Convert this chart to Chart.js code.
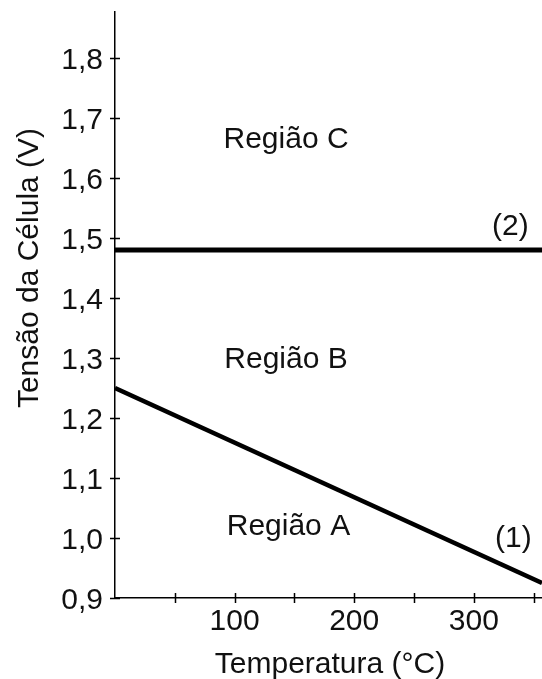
<!DOCTYPE html>
<html>
<head>
<meta charset="utf-8">
<script src="https://cdn.jsdelivr.net/npm/chart.js@4/dist/chart.umd.min.js"></script>
<style>
  html, body { margin: 0; padding: 0; background: #fff; }
  #grafico { display: block; }
</style>
</head>
<body>
<canvas id="grafico" width="542" height="679"></canvas>
<script>
// dados das duas retas
const temperaturas = [0, 357];
const tensaoReta1 = [1.25, 0.925];   // (1) limite entre as regiões A e B
const tensaoReta2 = [1.48, 1.48];    // (2) limite entre as regiões B e C

const limitesX = [0, 357];
const limitesY = [0.9, 1.877];
const passoX = 50;
const passoY = 0.1;

// textos colocados em coordenadas do gráfico
const textos = ['Região C', 'Região B', 'Região A', '(2)', '(1)'];
const textosX = [143, 143, 145, 330.5, 333];
const textosY = [1.65, 1.283, 1.005, 1.505, 0.985];

const fonte = '"Liberation Sans", Arial, sans-serif';
const corTexto = '#111';

const pontos = (xs, ys) => xs.map((x, i) => ({ x: x, y: ys[i] }))

// marcas de escala cruzando os eixos e textos soltos
const extras = {
    id: 'extras',
    afterDatasetsDraw(chart) {
        const ctx = chart.ctx
        const sx = chart.scales.x
        const sy = chart.scales.y
        const area = chart.chartArea

        ctx.save()
        ctx.strokeStyle = '#000'
        ctx.lineWidth = 1.5
        ctx.beginPath()
        sy.ticks.forEach(t => {
            const py = Math.round(sy.getPixelForValue(t.value)) + 0.5
            ctx.moveTo(area.left - 5, py)
            ctx.lineTo(area.left + 5, py)
        })
        sx.ticks.forEach(t => {
            if (t.value === 0) return
            const px = Math.round(sx.getPixelForValue(t.value)) + 0.5
            ctx.moveTo(px, area.bottom - 5)
            ctx.lineTo(px, area.bottom + 5)
        })
        ctx.stroke()

        ctx.fillStyle = corTexto
        ctx.font = '30px ' + fonte
        ctx.textAlign = 'center'
        ctx.textBaseline = 'alphabetic'
        textos.forEach((t, i) => {
            ctx.fillText(t, sx.getPixelForValue(textosX[i]), sy.getPixelForValue(textosY[i]))
        })

        // títulos dos eixos
        ctx.fillText('Temperatura (°C)', 330, 673)
        ctx.translate(38, 268)
        ctx.rotate(-Math.PI / 2)
        ctx.fillText('Tensão da Célula (V)', 0, 0)
        ctx.restore()
    }
}

new Chart(document.getElementById('grafico'), {
    type: 'scatter',
    data: {
        datasets: [
            {
                label: '(1)',
                data: pontos(temperaturas, tensaoReta1),
                showLine: true,
                borderColor: '#000',
                borderWidth: 4.5,
                pointRadius: 0
            }, {
                label: '(2)',
                data: pontos(temperaturas, tensaoReta2),
                showLine: true,
                borderColor: '#000',
                borderWidth: 5,
                pointRadius: 0
            }
        ]
    },
    options: {
        responsive: false,
        animation: false,
        layout: { padding: { top: 12, right: 0, left: 0, bottom: 0 } },
        plugins: {
            legend: { display: false },
            tooltip: { enabled: false }
        },
        scales: {
            x: {
                type: 'linear',
                min: limitesX[0],
                max: limitesX[1],
                grid: { display: false, drawTicks: false },
                border: { display: true, color: '#000', width: 1.5 },
                ticks: {
                    stepSize: passoX,
                    includeBounds: false,
                    autoSkip: false,
                    maxRotation: 0,
                    padding: 6,
                    color: corTexto,
                    font: { family: fonte, size: 30 },
                    callback: v => (v > 0 && v % 100 === 0) ? String(v) : ''
                },
                afterFit: s => {
                    s.height = 81
                    s.paddingLeft = 0
                    s.paddingRight = 0
                }
            },
            y: {
                min: limitesY[0],
                max: limitesY[1],
                grid: { display: false, drawTicks: false },
                border: { display: true, color: '#000', width: 1.5 },
                ticks: {
                    stepSize: passoY,
                    includeBounds: false,
                    autoSkip: false,
                    padding: 12,
                    labelOffset: 3,
                    color: corTexto,
                    font: { family: fonte, size: 30 },
                    callback: v => v.toFixed(1).replace('.', ',')
                },
                afterFit: s => {
                    s.width = 115
                    s.paddingTop = 0
                    s.paddingBottom = 0
                }
            }
        }
    },
    plugins: [extras]
});
</script>
</body>
</html>
